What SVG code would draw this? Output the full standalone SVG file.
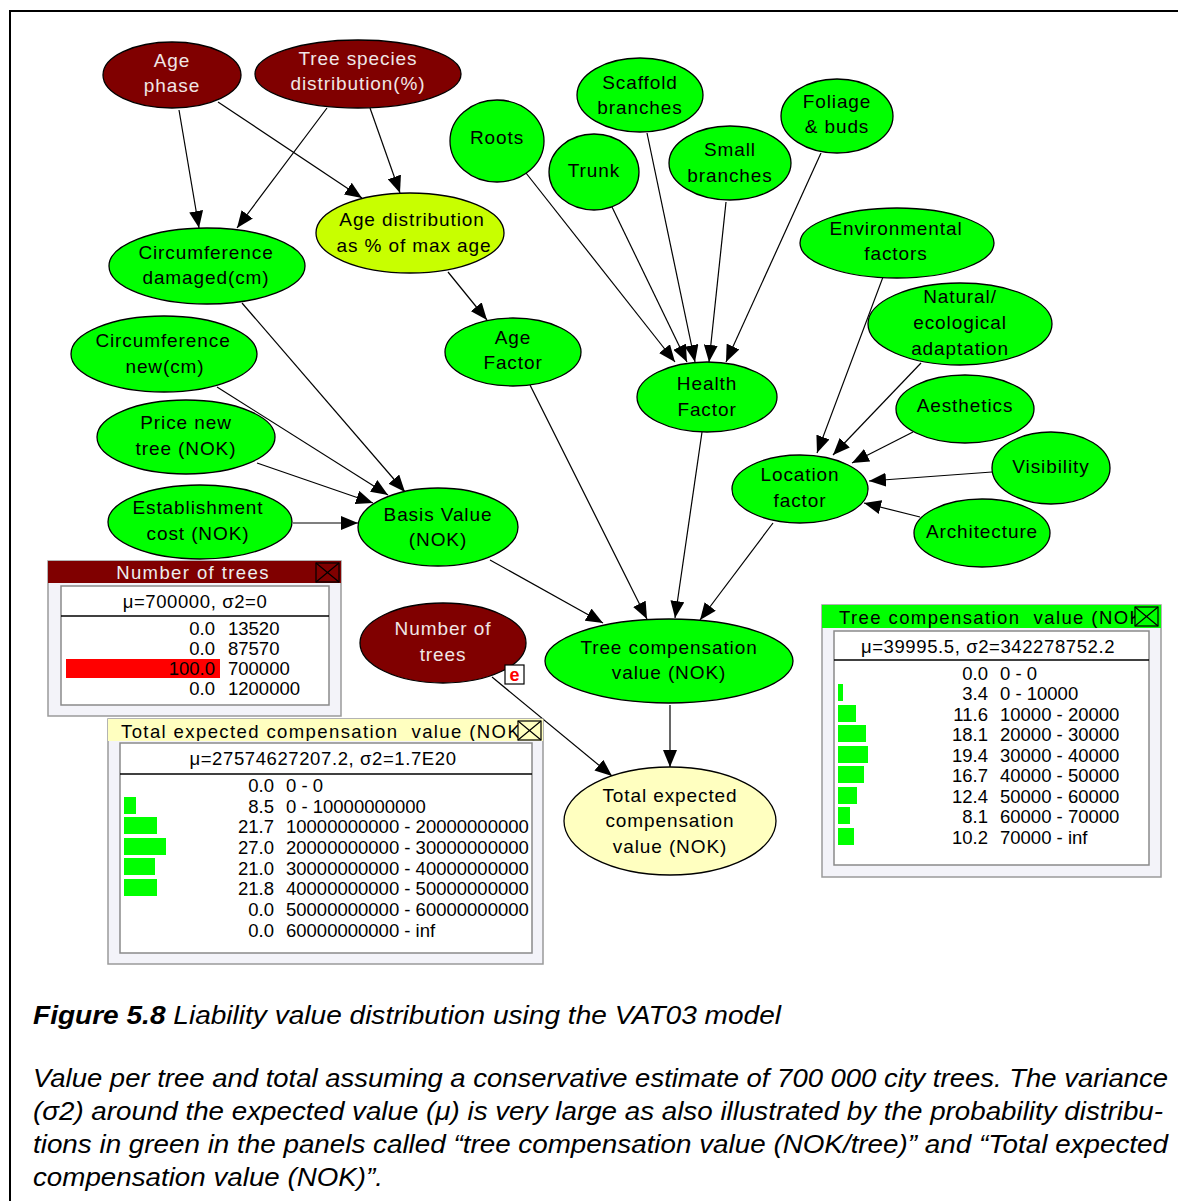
<svg xmlns="http://www.w3.org/2000/svg" width="1178" height="1201" viewBox="0 0 1178 1201">
<style>
.n{stroke:#000;stroke-width:1.3}
.g{fill:#00ff00}
.r{fill:#800000}
.nt{font-family:"Liberation Sans",Arial,sans-serif;font-size:19px;letter-spacing:0.9px;text-anchor:middle;fill:#000}
.wt{fill:#f0e6e6}
.c line{stroke:#000;stroke-width:1.2;marker-end:url(#ah)}
.pt{font-family:"Liberation Sans",Arial,sans-serif;font-size:18.5px;fill:#000}
.ttl{letter-spacing:1.4px;white-space:pre}
.mu{letter-spacing:0.6px}
.e{text-anchor:end}
.m{text-anchor:middle}
.panel{fill:#f3f3f9;stroke:#9a9a9a;stroke-width:1.5}
.inner{fill:#fff;stroke:#8a8a8a;stroke-width:1.5}
.cb{fill:none;stroke:#000;stroke-width:1.2}
.bar{fill:#00ff00}
.cap{font-family:"Liberation Sans",Arial,sans-serif;font-size:25px;font-style:italic;fill:#000}
</style>
<defs>
<marker id="ah" viewBox="0 0 17 14" refX="17" refY="7" markerWidth="17" markerHeight="14" markerUnits="userSpaceOnUse" orient="auto">
<path d="M0,0 L17,7 L0,14 z" fill="#000"/>
</marker>
<clipPath id="c1"><rect x="108" y="719" width="410" height="22"/></clipPath>
<clipPath id="c2"><rect x="822" y="605" width="313" height="23"/></clipPath>
</defs>
<rect x="10" y="11" width="1200" height="1200" fill="#fff" stroke="#000" stroke-width="2"/>

<g class="c" id="connectors">
<line x1="179" y1="110" x2="199" y2="228"/>
<line x1="327" y1="108" x2="237" y2="228"/>
<line x1="218" y1="102" x2="362" y2="198"/>
<line x1="370" y1="108" x2="400" y2="193"/>
<line x1="448" y1="272" x2="487" y2="320"/>
<line x1="526" y1="173" x2="675" y2="362"/>
<line x1="612" y1="207" x2="687" y2="362"/>
<line x1="647" y1="133" x2="695" y2="362"/>
<line x1="726" y1="202" x2="709" y2="362"/>
<line x1="821" y1="153" x2="726" y2="362"/>
<line x1="883" y1="277" x2="817" y2="453"/>
<line x1="921" y1="363" x2="833" y2="455"/>
<line x1="913" y1="432" x2="852" y2="463"/>
<line x1="992" y1="472" x2="869" y2="481"/>
<line x1="920" y1="517" x2="864" y2="503"/>
<line x1="242" y1="303" x2="405" y2="492"/>
<line x1="217" y1="387" x2="388" y2="495"/>
<line x1="257" y1="463" x2="373" y2="503"/>
<line x1="293" y1="523" x2="358" y2="523"/>
<line x1="530" y1="385" x2="647" y2="619"/>
<line x1="702" y1="432" x2="675" y2="618"/>
<line x1="773" y1="523" x2="700" y2="620"/>
<line x1="490" y1="560" x2="603" y2="623"/>
<line x1="670" y1="705" x2="670" y2="767"/>
<line x1="492" y1="677" x2="612" y2="776"/>
</g>

<g id="age-phase"><ellipse class="n r" cx="172" cy="75" rx="69" ry="33"/><text class="nt wt" x="172" y="67">Age</text><text class="nt wt" x="172" y="92">phase</text></g>
<g id="tree-species"><ellipse class="n r" cx="358" cy="74" rx="103" ry="34"/><text class="nt wt" x="358" y="65">Tree species</text><text class="nt wt" x="358" y="90">distribution(%)</text></g>
<g id="roots"><ellipse class="n g" cx="497" cy="141" rx="47" ry="41"/><text class="nt" x="497" y="144">Roots</text></g>
<g id="scaffold"><ellipse class="n g" cx="640" cy="95" rx="63" ry="37"/><text class="nt" x="640" y="89">Scaffold</text><text class="nt" x="640" y="114">branches</text></g>
<g id="trunk"><ellipse class="n g" cx="594" cy="172" rx="45" ry="38"/><text class="nt" x="594" y="177">Trunk</text></g>
<g id="small-branches"><ellipse class="n g" cx="730" cy="163" rx="61" ry="37"/><text class="nt" x="730" y="156">Small</text><text class="nt" x="730" y="182">branches</text></g>
<g id="foliage"><ellipse class="n g" cx="837" cy="116" rx="56" ry="37"/><text class="nt" x="837" y="108">Foliage</text><text class="nt" x="837" y="133">&amp; buds</text></g>
<g id="environmental"><ellipse class="n g" cx="897" cy="243" rx="97" ry="35"/><text class="nt" x="896" y="235">Environmental</text><text class="nt" x="896" y="260">factors</text></g>
<g id="natural"><ellipse class="n g" cx="960" cy="324" rx="92" ry="41"/><text class="nt" x="960" y="303">Natural/</text><text class="nt" x="960" y="329">ecological</text><text class="nt" x="960" y="355">adaptation</text></g>
<g id="aesthetics"><ellipse class="n g" cx="965" cy="409" rx="69" ry="34"/><text class="nt" x="965" y="412">Aesthetics</text></g>
<g id="visibility"><ellipse class="n g" cx="1051" cy="468" rx="59" ry="36"/><text class="nt" x="1051" y="473">Visibility</text></g>
<g id="architecture"><ellipse class="n g" cx="982" cy="533" rx="68" ry="34"/><text class="nt" x="982" y="538">Architecture</text></g>
<g id="location"><ellipse class="n g" cx="800" cy="489" rx="68" ry="34"/><text class="nt" x="800" y="481">Location</text><text class="nt" x="800" y="507">factor</text></g>
<g id="health"><ellipse class="n g" cx="707" cy="397" rx="70" ry="35"/><text class="nt" x="707" y="390">Health</text><text class="nt" x="707" y="416">Factor</text></g>
<g id="age-factor"><ellipse class="n g" cx="513" cy="352" rx="68" ry="34"/><text class="nt" x="513" y="344">Age</text><text class="nt" x="513" y="369">Factor</text></g>
<g id="age-distribution"><ellipse class="n" fill="#c8ff00" cx="410" cy="233" rx="94" ry="40"/><text class="nt" x="412" y="226">Age distribution</text><text class="nt" x="414" y="252">as % of max age</text></g>
<g id="circ-damaged"><ellipse class="n g" cx="207" cy="266" rx="98" ry="38"/><text class="nt" x="206" y="259">Circumference</text><text class="nt" x="206" y="284">damaged(cm)</text></g>
<g id="circ-new"><ellipse class="n g" cx="164" cy="354" rx="93" ry="38"/><text class="nt" x="163" y="347">Circumference</text><text class="nt" x="165" y="373">new(cm)</text></g>
<g id="price-new"><ellipse class="n g" cx="186" cy="437" rx="89" ry="37"/><text class="nt" x="186" y="429">Price new</text><text class="nt" x="186" y="455">tree (NOK)</text></g>
<g id="establishment"><ellipse class="n g" cx="200" cy="522" rx="92" ry="37"/><text class="nt" x="198" y="514">Establishment</text><text class="nt" x="198" y="540">cost (NOK)</text></g>
<g id="basis-value"><ellipse class="n g" cx="438" cy="527" rx="80" ry="39"/><text class="nt" x="438" y="521">Basis Value</text><text class="nt" x="438" y="546">(NOK)</text></g>
<g id="number-of-trees"><ellipse class="n r" cx="443" cy="643" rx="83" ry="40"/><text class="nt wt" x="443" y="635">Number of</text><text class="nt wt" x="443" y="661">trees</text>
<rect x="505" y="665" width="19" height="19" fill="#fff" stroke="#000" stroke-width="1.2"/><text x="514.5" y="681" font-family="Liberation Sans,Arial,sans-serif" font-size="18" font-weight="bold" fill="#ff0000" text-anchor="middle">e</text></g>
<g id="tree-comp"><ellipse class="n g" cx="669" cy="661" rx="124" ry="42"/><text class="nt" x="669" y="654">Tree compensation</text><text class="nt" x="669" y="679">value (NOK)</text></g>
<g id="total-expected"><ellipse class="n" fill="#ffffc0" cx="670" cy="821" rx="106" ry="54"/><text class="nt" x="670" y="802">Total expected</text><text class="nt" x="670" y="827">compensation</text><text class="nt" x="670" y="853">value (NOK)</text></g>

<g id="panel-number-of-trees">
<rect class="panel" x="48" y="561" width="293" height="155"/>
<rect x="48" y="561" width="293" height="22" fill="#800000"/>
<text class="pt m ttl" x="193" y="579" style="fill:#eeeeee">Number of trees</text>
<rect class="cb" x="316" y="563" width="23" height="19"/><path class="cb" d="M316,563 L339,582 M339,563 L316,582"/>
<rect class="inner" x="61" y="586" width="268" height="119"/>
<text class="pt m mu" x="195" y="608">μ=700000, σ2=0</text>
<line x1="61" y1="616" x2="329" y2="616" stroke="#000" stroke-width="1.3"/>
<rect x="66" y="659" width="154" height="19" fill="#ff0000"/>
<text class="pt e" x="215" y="635">0.0</text><text class="pt" x="228" y="635">13520</text>
<text class="pt e" x="215" y="655">0.0</text><text class="pt" x="228" y="655">87570</text>
<text class="pt e" x="215" y="675">100.0</text><text class="pt" x="228" y="675">700000</text>
<text class="pt e" x="215" y="695">0.0</text><text class="pt" x="228" y="695">1200000</text>
</g>

<g id="panel-total">
<rect class="panel" x="108" y="719" width="435" height="245"/>
<rect x="108" y="719" width="435" height="22" fill="#ffffc0"/>
<text class="pt ttl" x="121" y="738" clip-path="url(#c1)">Total expected compensation  value (NOK</text>
<rect class="cb" x="518" y="721" width="23" height="19"/><path class="cb" d="M518,721 L541,740 M541,721 L518,740"/>
<rect class="inner" x="120" y="743" width="412" height="210"/>
<text class="pt m mu" x="323" y="765">μ=27574627207.2, σ2=1.7E20</text>
<line x1="120" y1="774" x2="532" y2="774" stroke="#000" stroke-width="1.3"/>
<rect class="bar" x="124" y="797" width="12" height="17"/>
<rect class="bar" x="124" y="817" width="33" height="17"/>
<rect class="bar" x="124" y="838" width="42" height="17"/>
<rect class="bar" x="124" y="858" width="31" height="17"/>
<rect class="bar" x="124" y="879" width="33" height="17"/>
<text class="pt e" x="274" y="792">0.0</text><text class="pt" x="286" y="792">0 - 0</text>
<text class="pt e" x="274" y="813">8.5</text><text class="pt" x="286" y="813">0 - 10000000000</text>
<text class="pt e" x="274" y="833">21.7</text><text class="pt" x="286" y="833">10000000000 - 20000000000</text>
<text class="pt e" x="274" y="854">27.0</text><text class="pt" x="286" y="854">20000000000 - 30000000000</text>
<text class="pt e" x="274" y="875">21.0</text><text class="pt" x="286" y="875">30000000000 - 40000000000</text>
<text class="pt e" x="274" y="895">21.8</text><text class="pt" x="286" y="895">40000000000 - 50000000000</text>
<text class="pt e" x="274" y="916">0.0</text><text class="pt" x="286" y="916">50000000000 - 60000000000</text>
<text class="pt e" x="274" y="937">0.0</text><text class="pt" x="286" y="937">60000000000 - inf</text>
</g>

<g id="panel-tree-comp">
<rect class="panel" x="822" y="605" width="339" height="272"/>
<rect x="822" y="605" width="339" height="23" fill="#00ff00"/>
<text class="pt ttl" x="839" y="624" clip-path="url(#c2)">Tree compensation  value (NOK</text>
<rect class="cb" x="1135" y="607" width="23" height="19"/><path class="cb" d="M1135,607 L1158,626 M1158,607 L1135,626"/>
<rect class="inner" x="834" y="631" width="315" height="234"/>
<text class="pt m mu" x="988" y="653">μ=39995.5, σ2=342278752.2</text>
<line x1="834" y1="660" x2="1149" y2="660" stroke="#000" stroke-width="1.3"/>
<rect class="bar" x="838" y="684" width="5" height="17"/>
<rect class="bar" x="838" y="705" width="18" height="17"/>
<rect class="bar" x="838" y="725" width="28" height="17"/>
<rect class="bar" x="838" y="746" width="30" height="17"/>
<rect class="bar" x="838" y="766" width="26" height="17"/>
<rect class="bar" x="838" y="787" width="19" height="17"/>
<rect class="bar" x="838" y="807" width="12" height="17"/>
<rect class="bar" x="838" y="828" width="16" height="17"/>
<text class="pt e" x="988" y="680">0.0</text><text class="pt" x="1000" y="680">0 - 0</text>
<text class="pt e" x="988" y="700">3.4</text><text class="pt" x="1000" y="700">0 - 10000</text>
<text class="pt e" x="988" y="721">11.6</text><text class="pt" x="1000" y="721">10000 - 20000</text>
<text class="pt e" x="988" y="741">18.1</text><text class="pt" x="1000" y="741">20000 - 30000</text>
<text class="pt e" x="988" y="762">19.4</text><text class="pt" x="1000" y="762">30000 - 40000</text>
<text class="pt e" x="988" y="782">16.7</text><text class="pt" x="1000" y="782">40000 - 50000</text>
<text class="pt e" x="988" y="803">12.4</text><text class="pt" x="1000" y="803">50000 - 60000</text>
<text class="pt e" x="988" y="823">8.1</text><text class="pt" x="1000" y="823">60000 - 70000</text>
<text class="pt e" x="988" y="844">10.2</text><text class="pt" x="1000" y="844">70000 - inf</text>
</g>

<g id="caption">
<text class="cap" x="33" y="1024" textLength="748" lengthAdjust="spacingAndGlyphs"><tspan font-weight="bold">Figure 5.8</tspan> Liability value distribution using the VAT03 model</text>
<text class="cap" x="33" y="1087" textLength="1135" lengthAdjust="spacingAndGlyphs">Value per tree and total assuming a conservative estimate of 700 000 city trees. The variance</text>
<text class="cap" x="33" y="1120" textLength="1130" lengthAdjust="spacingAndGlyphs">(σ2) around the expected value (μ) is very large as also illustrated by the probability distribu-</text>
<text class="cap" x="33" y="1153" textLength="1135" lengthAdjust="spacingAndGlyphs">tions in green in the panels called “tree compensation value (NOK/tree)” and “Total expected</text>
<text class="cap" x="33" y="1186" textLength="350" lengthAdjust="spacingAndGlyphs">compensation value (NOK)”.</text>
</g>
</svg>
